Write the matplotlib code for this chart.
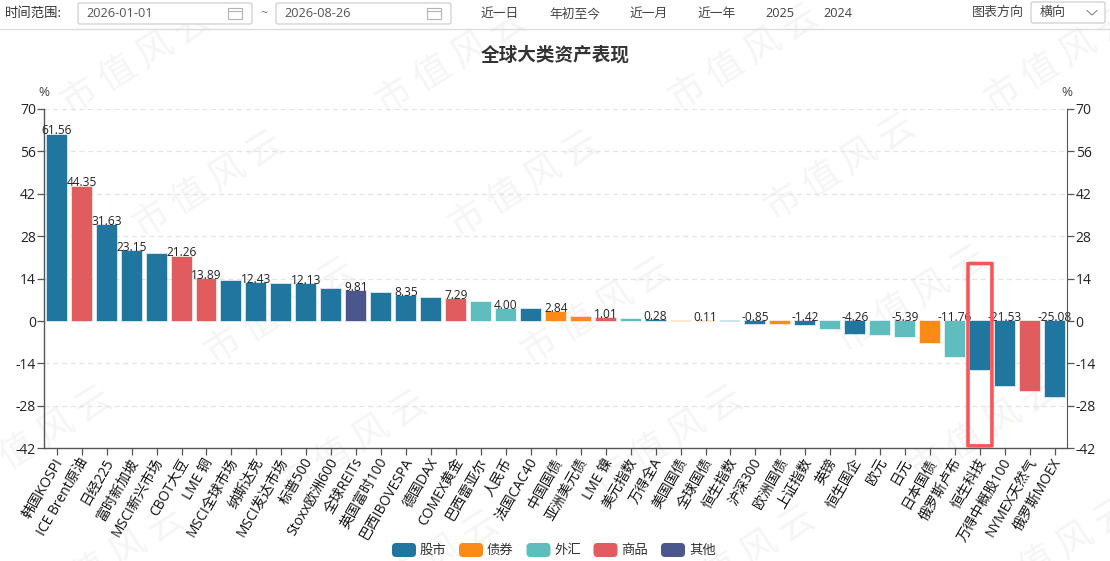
import matplotlib
matplotlib.use("Agg")
import matplotlib.pyplot as plt
from matplotlib.patches import FancyBboxPatch, Rectangle
from matplotlib.lines import Line2D
from matplotlib.transforms import ScaledTranslation

plt.rcParams['font.family'] = ['Open Sans', 'Noto Sans CJK SC', 'DejaVu Sans']

W, H = 1110, 561

categories = ["韩国KOSPI", "ICE Brent原油", "日经225", "富时新加坡", "MSCI新兴市场", "CBOT大豆", "LME 铜",
              "MSCI全球市场", "纳斯达克", "MSCI发达市场", "标普500", "Stoxx欧洲600", "全球REITs", "英国富时100",
              "巴西IBOVESPA", "德国DAX", "COMEX黄金", "巴西雷亚尔", "人民币", "法国CAC40", "中国国债", "亚洲美元债",
              "LME 镍", "美元指数", "万得全A", "美国国债", "全球国债", "恒生指数", "沪深300", "欧洲国债", "上证指数",
              "英镑", "恒生国企", "欧元", "日元", "日本国债", "俄罗斯卢布", "恒生科技", "万得中概股100",
              "NYMEX天然气", "俄罗斯MOEX"]
values = [61.56, 44.35, 31.63, 23.15, 22.1, 21.26, 13.89, 13.1, 12.43, 12.2, 12.13, 10.7, 9.81, 9.4,
          8.35, 7.6, 7.29, 6.4, 4.00, 3.9, 2.84, 1.3, 1.01, 0.8, 0.28, 0.15, 0.11, 0.05, -0.85, -0.9,
          -1.42, -2.5, -4.26, -4.5, -5.39, -7.1, -11.76, -16.1, -21.53, -23.0, -25.08]
asset_class = ["股市", "商品", "股市", "股市", "股市", "商品", "商品", "股市", "股市", "股市", "股市", "股市",
               "其他", "股市", "股市", "股市", "商品", "外汇", "外汇", "股市", "债券", "债券", "商品", "外汇",
               "股市", "债券", "债券", "股市", "股市", "债券", "股市", "外汇", "股市", "外汇", "外汇", "债券",
               "外汇", "股市", "股市", "商品", "股市"]
legend_names = ["股市", "债券", "外汇", "商品", "其他"]
legend_colors = ["#21769f", "#fb8a17", "#5fbebd", "#e05c5e", "#4a568c"]
y_ticks = [70, 56, 42, 28, 14, 0, -14, -28, -42]
highlight_name = "恒生科技"
presets = ["近一日", "年初至今", "近一月", "近一年", "2025", "2024"]
unlabelled = {"MSCI新兴市场", "MSCI全球市场", "MSCI发达市场", "Stoxx欧洲600", "英国富时100", "德国DAX", "巴西雷亚尔",
              "法国CAC40", "亚洲美元债", "美元指数", "美国国债", "恒生指数", "欧洲国债", "英镑", "欧元", "日本国债",
              "恒生科技", "NYMEX天然气"}

palette = dict(zip(legend_names, legend_colors))
fig = plt.figure(figsize=(W / 100, H / 100), dpi=100, facecolor="white")
bg = fig.add_axes([0, 0, 1, 1])
bg.set_xlim(0, W)
bg.set_ylim(H, 0)
bg.axis("off")

# watermark
for x, y in [(137, 62), (452, 62), (745, 58), (1060, 60),
             (209, 185), (525, 185), (841, 168),
             (281, 312), (597, 312), (913, 300),
             (38, 440), (353, 445), (669, 440), (985, 430),
             (110, 560), (425, 565), (741, 560), (1057, 552)]:
    bg.text(x, y, "市 值 风 云", fontsize=26, color="#f5f5f5", rotation=32,
            ha="center", va="center", zorder=0, family=['Noto Sans CJK SC'])

# toolbar
bg.add_line(Line2D([0, W], [28.5, 28.5], color="#dcdcdc", lw=1))
bg.text(5, 13.5, "时间范围:", fontsize=9.6, color="#333333", va="center")
for x0, x1, t in [(78, 252, "2026-01-01"), (276, 451, "2026-08-26")]:
    bg.add_patch(FancyBboxPatch((x0, 3), x1 - x0, 21, boxstyle="round,pad=0,rounding_size=2",
                                fc="white", ec="#d4d4d4", lw=1))
    bg.text(x0 + 8, 13.5, t, fontsize=9.2, color="#555555", va="center")
    ic = x1 - 17
    bg.add_patch(Rectangle((ic - 7, 7.5), 14, 11.5, fc="none", ec="#b4b4b4", lw=0.8))
    bg.add_line(Line2D([ic - 7, ic + 7], [10.5, 10.5], color="#b4b4b4", lw=0.8))
bg.text(264, 13.5, "~", fontsize=9, color="#777777", ha="center", va="center")
for name, cx in zip(presets, [500, 575, 649, 717, 780, 838]):
    bg.text(cx, 13.5, name, fontsize=9.2, color="#444444", ha="center", va="center")
bg.text(998, 12.5, "图表方向", fontsize=9.4, color="#444444", ha="center", va="center")
bg.add_patch(FancyBboxPatch((1031, 2), 74, 21, boxstyle="round,pad=0,rounding_size=2",
                            fc="white", ec="#d4d4d4", lw=1))
bg.text(1040, 12.5, "横向", fontsize=9.4, color="#444444", va="center")
bg.add_line(Line2D([1087, 1092, 1097], [10.5, 15, 10.5], color="#888888", lw=0.8))

bg.text(555, 55, "全球大类资产表现", fontsize=13.4, fontweight="bold", color="#333333",
        ha="center", va="center", family=['Noto Sans CJK SC'])
bg.text(44, 92, "%", fontsize=9.6, color="#444444", ha="center", va="center")
bg.text(1067, 92, "%", fontsize=9.6, color="#444444", ha="center", va="center")

# axes
L, R, T, B = 44.3, 1067.3, 109, 448.3
ax = fig.add_axes([L / W, 1 - B / H, (R - L) / W, (B - T) / H], facecolor="none")
n = len(categories)
xs = list(range(n))
ax.set_xlim(-0.5, n - 0.5)
ax.set_ylim(-42, 70)
ax.set_yticks(y_ticks)
ax.set_yticklabels([str(v) for v in y_ticks], fontsize=10, color="#222222")
ax.tick_params(axis="y", length=5, width=0.9, color="#555555", pad=1)
for v in y_ticks:
    if v != 0 and v != -42:
        ax.axhline(v, color="#e4e4e4", lw=0.9, ls=(0, (4, 3)), zorder=1)
ax.bar(xs, values, width=0.8, color=[palette[c] for c in asset_class], linewidth=0, zorder=2)
for i, v in enumerate(values):
    ax.bar(i, v, width=0.8, fc="none", ec=palette[asset_class[i]], alpha=0.25, lw=1.2, zorder=2)

ax.set_xticks(xs)
ax.set_xticklabels(categories, rotation=60, ha="right", va="top", rotation_mode="anchor",
                   fontsize=10, color="#111111")
ax.tick_params(axis="x", length=5, width=0.9, color="#555555", pad=1)
shift = ScaledTranslation(-3 / 100, 1 / 100, fig.dpi_scale_trans)
for lab in ax.get_xticklabels():
    lab.set_transform(lab.get_transform() + shift)
for s in ["top", "right"]:
    ax.spines[s].set_visible(False)
for s in ["left", "bottom"]:
    ax.spines[s].set_color("#555555")
    ax.spines[s].set_linewidth(1)

# right axis
ax2 = ax.twinx()
ax2.set_ylim(-42, 70)
ax2.set_yticks(y_ticks)
ax2.set_yticklabels([str(v) for v in y_ticks], fontsize=10, color="#222222")
ax2.tick_params(axis="y", length=5, width=0.9, color="#555555", pad=1)
for s in ["top", "left", "bottom"]:
    ax2.spines[s].set_visible(False)
ax2.spines["right"].set_color("#555555")
ax2.patch.set_visible(False)

# value labels
for i, (name, v) in enumerate(zip(categories, values)):
    if name in unlabelled:
        continue
    ax.annotate(f"{v:.2f}", (i, max(v, 0)), xytext=(0, -2), textcoords="offset points",
                ha="center", va="bottom", fontsize=8.6, color="#222222", zorder=5,
                annotation_clip=False)

# highlight box
hi = categories.index(highlight_name)
ax.add_patch(FancyBboxPatch((hi - 0.48, -41.2), 0.96, 60.2, boxstyle="round,pad=0,rounding_size=0.05",
                            fc="none", ec="#f9565a", lw=2.6, zorder=6, clip_on=False,
                            mutation_aspect=1))

# legend
lx = [392, 459, 526.5, 593.5, 661]
for x, name, col in zip(lx, legend_names, legend_colors):
    bg.add_patch(FancyBboxPatch((x, 543), 24, 14, boxstyle="round,pad=0,rounding_size=4",
                                fc=col, ec="none", zorder=3))
    bg.text(x + 28, 550.5, name, fontsize=9.6, color="#333333", va="center", zorder=3)

fig.savefig("out.png", dpi=100)
